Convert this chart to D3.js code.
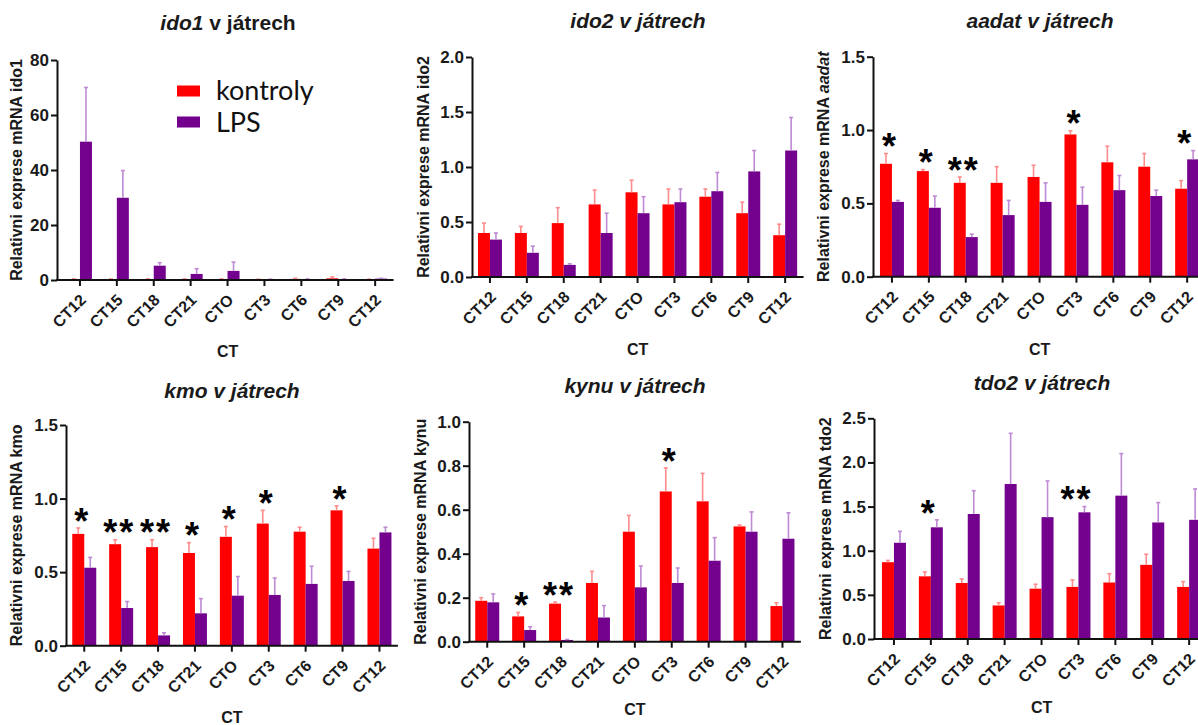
<!DOCTYPE html>
<html>
<head>
<meta charset="utf-8">
<script src="https://cdnjs.cloudflare.com/ajax/libs/d3/7.8.5/d3.min.js"></script>
<style>
    body { margin: 0; background: #fff; }
    #chart { width: 1198px; height: 725px; }
    text { font-family: "Liberation Sans", Arial, sans-serif; }
</style>
</head>
<body>
<div id="chart"></div>
<script>
//Data
const categories = ['CT12', 'CT15', 'CT18', 'CT21', 'CTO', 'CT3', 'CT6', 'CT9', 'CT12'];
const groups = ['kontroly', 'LPS'];

const ido1Ticks = [0, 20, 40, 60, 80];
const ido1Kontroly = [0.3, 0.3, 0.3, 0.3, 0.3, 0.2, 0.4, 0.6, 0.2];
const ido1KontrolySem = [0.1, 0.1, 0.1, 0.1, 0.1, 0.1, 0.2, 0.5, 0.1];
const ido1Lps = [50.3, 29.9, 5.2, 2.2, 3.3, 0.2, 0.3, 0.3, 0.5];
const ido1LpsSem = [19.7, 9.9, 1.1, 1.9, 3.2, 0.1, 0.1, 0.1, 0.1];
const ido1Stars = ['', '', '', '', '', '', '', '', ''];

const ido2Ticks = [0, 0.5, 1.0, 1.5, 2.0];
const ido2Kontroly = [0.40, 0.40, 0.49, 0.66, 0.77, 0.66, 0.73, 0.58, 0.38];
const ido2KontrolySem = [0.09, 0.06, 0.14, 0.13, 0.11, 0.14, 0.07, 0.10, 0.10];
const ido2Lps = [0.34, 0.22, 0.11, 0.40, 0.58, 0.68, 0.78, 0.96, 1.15];
const ido2LpsSem = [0.06, 0.06, 0.01, 0.18, 0.15, 0.12, 0.17, 0.19, 0.30];
const ido2Stars = ['', '', '', '', '', '', '', '', ''];

const aadatTicks = [0, 0.5, 1.0, 1.5];
const aadatKontroly = [0.77, 0.72, 0.64, 0.64, 0.68, 0.97, 0.78, 0.75, 0.60];
const aadatKontrolySem = [0.07, 0.01, 0.04, 0.11, 0.08, 0.025, 0.11, 0.09, 0.055];
const aadatLps = [0.51, 0.47, 0.27, 0.42, 0.51, 0.49, 0.59, 0.55, 0.80];
const aadatLpsSem = [0.01, 0.08, 0.02, 0.10, 0.13, 0.12, 0.10, 0.04, 0.06];
const aadatStars = ['*', '*', '**', '', '', '*', '', '', '*'];

const kmoTicks = [0, 0.5, 1.0, 1.5];
const kmoKontroly = [0.76, 0.69, 0.67, 0.63, 0.74, 0.83, 0.775, 0.92, 0.66];
const kmoKontrolySem = [0.04, 0.03, 0.05, 0.07, 0.07, 0.09, 0.03, 0.03, 0.07];
const kmoLps = [0.53, 0.256, 0.07, 0.22, 0.34, 0.345, 0.42, 0.44, 0.77];
const kmoLpsSem = [0.07, 0.044, 0.018, 0.10, 0.13, 0.115, 0.12, 0.065, 0.035];
const kmoStars = ['*', '**', '**', '*', '*', '*', '', '*', ''];

const kynuTicks = [0, 0.2, 0.4, 0.6, 0.8, 1.0];
const kynuKontroly = [0.186, 0.115, 0.173, 0.267, 0.50, 0.683, 0.638, 0.524, 0.162];
const kynuKontrolySem = [0.014, 0.018, 0.007, 0.053, 0.074, 0.107, 0.127, 0.006, 0.015];
const kynuLps = [0.179, 0.053, 0.008, 0.11, 0.247, 0.267, 0.368, 0.50, 0.468];
const kynuLpsSem = [0.038, 0.015, 0.002, 0.054, 0.097, 0.068, 0.105, 0.09, 0.118];
const kynuStars = ['', '*', '**', '', '', '*', '', '', ''];

const tdo2Ticks = [0, 0.5, 1.0, 1.5, 2.0, 2.5];
const tdo2Kontroly = [0.87, 0.71, 0.634, 0.38, 0.57, 0.59, 0.64, 0.84, 0.59];
const tdo2KontrolySem = [0.02, 0.05, 0.046, 0.03, 0.05, 0.08, 0.10, 0.12, 0.06];
const tdo2Lps = [1.09, 1.265, 1.416, 1.756, 1.38, 1.435, 1.624, 1.32, 1.35];
const tdo2LpsSem = [0.13, 0.085, 0.264, 0.574, 0.41, 0.065, 0.476, 0.225, 0.35];
const tdo2Stars = ['', '*', '', '', '', '**', '', '', ''];

//Colours
const COLOR_KONTROLY = '#ff0000',
    COLOR_LPS = '#74008e',
    COLOR_KONTROLY_ERR = '#ff8c8c',
    COLOR_LPS_ERR = '#bf8ad4',
    STEP = 36.9;

let panels = [
    {gene: 'ido1', ticks: ido1Ticks, k: ido1Kontroly, ks: ido1KontrolySem, l: ido1Lps, ls: ido1LpsSem, stars: ido1Stars, fmt: 'd',
        ax: 57, top: 60, bottom: 280, xStart: 61.5, titleX: 228, titleY: 30, italicAll: false, labX: 22, ctY: 357, legend: true},
    {gene: 'ido2', ticks: ido2Ticks, k: ido2Kontroly, ks: ido2KontrolySem, l: ido2Lps, ls: ido2LpsSem, stars: ido2Stars, fmt: '.1f',
        ax: 472, top: 57, bottom: 277, xStart: 471.5, titleX: 638, titleY: 28, italicAll: true, labX: 429, ctY: 355},
    {gene: 'aadat', ticks: aadatTicks, k: aadatKontroly, ks: aadatKontrolySem, l: aadatLps, ls: aadatLpsSem, stars: aadatStars, fmt: '.1f',
        ax: 873, top: 56.7, bottom: 276.7, xStart: 873.5, titleX: 1040, titleY: 28, italicAll: true, labX: 829, ctY: 355, labelItalic: true},
    {gene: 'kmo', ticks: kmoTicks, k: kmoKontroly, ks: kmoKontrolySem, l: kmoLps, ls: kmoLpsSem, stars: kmoStars, fmt: '.1f',
        ax: 66, top: 425, bottom: 645.7, xStart: 65.8, titleX: 232, titleY: 398, italicAll: true, labX: 22, ctY: 723},
    {gene: 'kynu', ticks: kynuTicks, k: kynuKontroly, ks: kynuKontrolySem, l: kynuLps, ls: kynuLpsSem, stars: kynuStars, fmt: '.1f',
        ax: 469, top: 421.7, bottom: 641.7, xStart: 468.8, titleX: 635, titleY: 393, italicAll: true, labX: 426, ctY: 715},
    {gene: 'tdo2', ticks: tdo2Ticks, k: tdo2Kontroly, ks: tdo2KontrolySem, l: tdo2Lps, ls: tdo2LpsSem, stars: tdo2Stars, fmt: '.1f',
        ax: 874, top: 418.3, bottom: 639, xStart: 875.5, titleX: 1042, titleY: 390, italicAll: true, labX: 831, ctY: 713}
];

let svg = d3.select('#chart')
    .append('svg')
        .attr('width', 1198)
        .attr('height', 725);

panels.forEach(function(p) { drawPanel(p); });

function drawPanel(p) {
    let g = svg.append('g');

    let y = d3.scaleLinear()
        .domain([0, d3.max(p.ticks)])
        .range([p.bottom, p.top]);

    let x = d3.scaleBand()
        .domain(d3.range(categories.length))
        .range([p.xStart, p.xStart + categories.length * STEP])
        .paddingInner(0.35)
        .paddingOuter(0.175);

    let xSub = d3.scaleBand()
        .domain(groups)
        .range([0, x.bandwidth()]);

    let rows = categories.map(function(c, i) {
        return [
            {i: i, key: 'kontroly', value: p.k[i], sem: p.ks[i]},
            {i: i, key: 'LPS', value: p.l[i], sem: p.ls[i]}
        ];
    });

    //Bars
    let bar = g.append('g')
        .selectAll('g')
        .data(rows)
        .enter()
        .append('g')
        .selectAll('g')
        .data(function(d) { return d; })
        .enter()
        .append('g');

    bar.append('rect')
        .attr('x', function(d) { return x(d.i) + xSub(d.key); })
        .attr('width', xSub.bandwidth())
        .attr('y', function(d) { return y(d.value); })
        .attr('height', function(d) { return y(0) - y(d.value); })
        .attr('fill', function(d) { return d.key == 'LPS' ? COLOR_LPS : COLOR_KONTROLY; });

    //Error bars (only upper half)
    bar.append('line')
        .attr('x1', function(d) { return x(d.i) + xSub(d.key) + xSub.bandwidth() / 2; })
        .attr('x2', function(d) { return x(d.i) + xSub(d.key) + xSub.bandwidth() / 2; })
        .attr('y1', function(d) { return y(d.value); })
        .attr('y2', function(d) { return y(d.value + d.sem); })
        .attr('stroke', function(d) { return d.key == 'LPS' ? COLOR_LPS_ERR : COLOR_KONTROLY_ERR; })
        .attr('stroke-width', 1.6);

    bar.append('line')
        .attr('x1', function(d) { return x(d.i) + xSub(d.key) + xSub.bandwidth() / 2 - 2; })
        .attr('x2', function(d) { return x(d.i) + xSub(d.key) + xSub.bandwidth() / 2 + 2; })
        .attr('y1', function(d) { return y(d.value + d.sem); })
        .attr('y2', function(d) { return y(d.value + d.sem); })
        .attr('stroke', function(d) { return d.key == 'LPS' ? COLOR_LPS_ERR : COLOR_KONTROLY_ERR; })
        .attr('stroke-width', 1.6);

    //Y axis
    let yAxis = function(g) {
        g.call(d3.axisLeft(y).tickValues(p.ticks).tickFormat(d3.format(p.fmt)).tickSize(6).tickPadding(2).tickSizeOuter(0));
        g.call(function(g) { g.select('.domain').attr('stroke', '#111').attr('stroke-width', 2); });
        g.call(function(g) { g.selectAll('.tick line').attr('stroke', '#111').attr('stroke-width', 2); });
        g.call(function(g) {
            g.selectAll('.tick text')
                .attr('fill', '#1a1a1a')
                .style('font-size', '17px')
                .style('font-weight', 'bold');
        });
    };

    g.append('g')
        .attr('transform', 'translate(' + p.ax + ',0)')
        .call(yAxis);

    //X axis
    let xAxis = function(g) {
        g.call(d3.axisBottom(x).tickFormat(function(i) { return categories[i]; }).tickSize(6).tickSizeOuter(0));
        g.call(function(g) { g.select('.domain').remove(); });
        g.call(function(g) { g.selectAll('.tick line').attr('stroke', '#111').attr('stroke-width', 2); });
        g.call(function(g) {
            g.selectAll('.tick text')
                .attr('x', 0)
                .attr('y', 0)
                .attr('dy', 0)
                .attr('text-anchor', 'end')
                .attr('transform', 'translate(7,21) rotate(-45)')
                .attr('fill', '#1a1a1a')
                .style('font-size', '16px')
                .style('font-weight', 'bold');
        });
    };

    g.append('g')
        .attr('transform', 'translate(0,' + p.bottom + ')')
        .call(xAxis);

    g.append('line')
        .attr('x1', p.ax - 1)
        .attr('x2', x.range()[1])
        .attr('y1', y(0))
        .attr('y2', y(0))
        .attr('stroke', '#111')
        .attr('stroke-width', 2);

    //Significance stars
    categories.forEach(function(c, i) {
        let s = p.stars[i];
        if (!s) return;
        let top = Math.max(p.k[i] + p.ks[i], p.l[i] + p.ls[i]);
        let cy = y(top) - 15;
        let cx = x(i) + x.bandwidth() / 2 - 3;
        for (let n = 0; n < s.length; n++) {
            g.append('text')
                .attr('x', cx + (n - (s.length - 1) / 2) * 16)
                .attr('y', cy + 0.575 * 36)
                .attr('text-anchor', 'middle')
                .style('font-size', '36px')
                .style('font-weight', 'bold')
                .attr('fill', '#000')
                .text('*');
        }
    });

    //Title
    let title = g.append('text')
        .attr('x', p.titleX)
        .attr('y', p.titleY)
        .attr('text-anchor', 'middle')
        .attr('fill', '#1a1a1a')
        .style('font-size', '21px')
        .style('font-weight', 'bold');
    title.append('tspan').style('font-style', 'italic').text(p.gene);
    title.append('tspan').style('font-style', p.italicAll ? 'italic' : 'normal').text(' v játrech');

    //Y label
    let ylab = g.append('text')
        .attr('transform', 'translate(' + p.labX + ',' + ((p.top + p.bottom) / 2) + ') rotate(-90)')
        .attr('text-anchor', 'middle')
        .attr('fill', '#1a1a1a')
        .style('font-size', '16px')
        .style('font-weight', 'bold');
    ylab.append('tspan').text('Relativni exprese mRNA ');
    ylab.append('tspan').style('font-style', p.labelItalic ? 'italic' : 'normal').text(p.gene);

    //X label
    g.append('text')
        .attr('x', (x.range()[0] + x.range()[1]) / 2)
        .attr('y', p.ctY)
        .attr('text-anchor', 'middle')
        .attr('fill', '#1a1a1a')
        .style('font-size', '16px')
        .style('font-weight', 'bold')
        .text('CT');

    //Legend
    if (p.legend) {
        let leg = g.append('g');
        groups.forEach(function(key, i) {
            leg.append('rect')
                .attr('x', 177)
                .attr('y', 85.5 + i * 31)
                .attr('width', 23)
                .attr('height', 11)
                .attr('fill', key == 'LPS' ? COLOR_LPS : COLOR_KONTROLY);
            leg.append('text')
                .attr('x', 216)
                .attr('y', 100 + i * 32)
                .attr('fill', '#111')
                .style('font-family', 'Lato, "Open Sans", sans-serif')
                .style('font-size', '27px')
                .text(key);
        });
    }
}
</script>
</body>
</html>
